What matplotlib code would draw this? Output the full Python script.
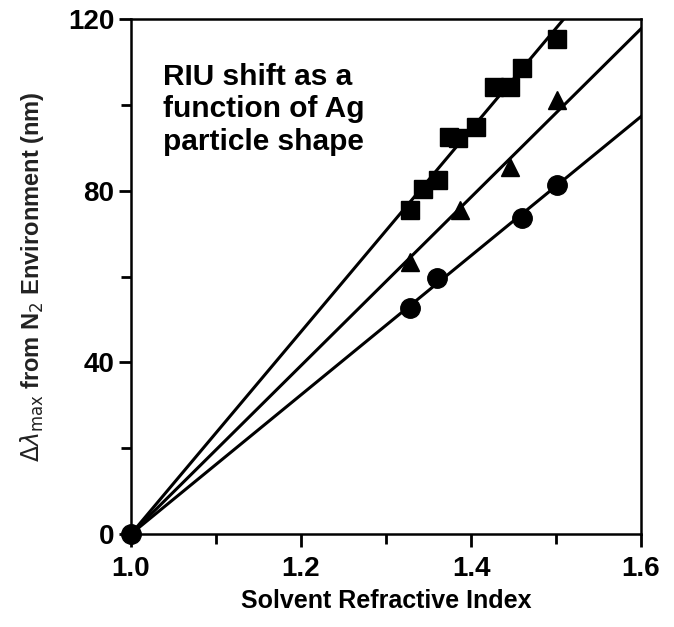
import numpy as np
import matplotlib.pyplot as plt
from matplotlib.ticker import MultipleLocator

plt.rcParams['font.family'] = ['Liberation Sans', 'DejaVu Sans']

# common origin: no shift at refractive index 1.0 (N2)
origin_x = [1.0]
origin_y = [0.0]
# solvent refractive index / shift (nm) for each particle shape
sq_x = [1.328, 1.344, 1.361, 1.374, 1.385, 1.406, 1.427, 1.446, 1.460, 1.501]
sq_y = [75.5, 80.4, 82.5, 92.5, 92.3, 94.9, 104.2, 104.2, 108.6, 115.4]
tri_x = [1.328, 1.387, 1.446, 1.501]
tri_y = [63.3, 75.4, 85.5, 101.2]
circ_x = [1.328, 1.360, 1.460, 1.501]
circ_y = [52.7, 59.7, 73.7, 81.4]

fig = plt.figure(figsize=(6.74, 6.27), dpi=100)
ax = fig.add_axes([0.1944, 0.1483, 0.7567, 0.8214])

xline = np.array([1.0, 1.6])
for xs, ys, mk, ms in [(sq_x, sq_y, 's', 12.5), (tri_x, tri_y, '^', 13), (circ_x, circ_y, 'o', 14)]:
    dx = np.array(xs) - origin_x[0]
    y = np.array(ys) - origin_y[0]
    slope = np.sum(dx * y) / np.sum(dx * dx)  # fit through origin
    ax.plot(xline, origin_y[0] + slope * (xline - origin_x[0]), color='black', lw=2.2, zorder=2)
    ax.plot(xs, ys, mk, color='black', ms=ms, zorder=3)
ax.plot(origin_x, origin_y, 'o', color='black', ms=14, zorder=4, clip_on=False)

ax.set_xlim(1.0, 1.6)
ax.set_ylim(0, 120)
ax.xaxis.set_minor_locator(MultipleLocator(0.1))
ax.yaxis.set_minor_locator(MultipleLocator(20))
ax.set_xticks([1.0, 1.2, 1.4, 1.6])
ax.set_xticklabels(['1.0', '1.2', '1.4', '1.6'], fontsize=20, fontweight='bold')
ax.set_yticks([0, 40, 80, 120])
ax.set_yticklabels(['0', '40', '80', '120'], fontsize=20, fontweight='bold')
ax.tick_params(axis='x', which='major', direction='out', length=9, width=2, pad=7)
ax.tick_params(axis='y', which='major', direction='out', length=9, width=2, pad=3)
ax.tick_params(which='minor', direction='out', length=7, width=2)
for s in ax.spines.values():
    s.set_linewidth(1.8)

ax.set_xlabel('Solvent Refractive Index', fontsize=18, fontweight='bold', labelpad=5)
ax.set_ylabel(r'$\Delta\lambda_{\mathrm{max}}$ from N$_2$ Environment (nm)',
              fontsize=17, fontweight='bold', color='#222222', labelpad=16)

ax.text(0.062, 0.915, 'RIU shift as a\nfunction of Ag\nparticle shape', transform=ax.transAxes,
        fontsize=21.5, fontweight='bold', va='top', ha='left', linespacing=1.2)

fig.savefig('out.png', dpi=100)
